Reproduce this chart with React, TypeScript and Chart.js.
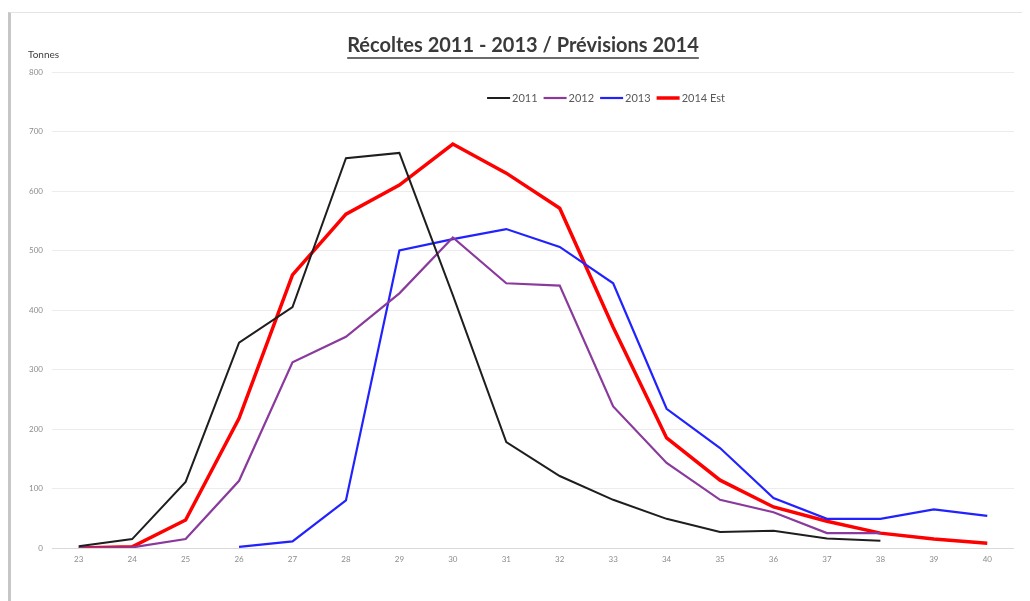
import React, { useEffect, useRef } from "react";
import { Chart, registerables } from "chart.js";

Chart.register(...registerables);

const weeks = ["23", "24", "25", "26", "27", "28", "29", "30", "31", "32", "33", "34", "35", "36", "37", "38", "39", "40"];
const s2011 = [3, 15, 111, 345, 405, 655, 664, 425, 178, 121, 81, 49, 27, 29, 16, 12, null, null];
const s2012 = [0, 1, 15, 113, 312, 355, 428, 522, 445, 441, 238, 143, 81, 60, 25, 25, null, null];
const s2013 = [null, null, null, 2, 11, 80, 500, 519, 536, 506, 445, 234, 168, 84, 49, 49, 65, 54];
const s2014 = [0, 2, 47, 218, 459, 561, 610, 679, 630, 571, 371, 185, 114, 69, 45, 25, 15, 8];
const seriesNames = ["2011", "2012", "2013", "2014 Est"];
const yTicks = [0, 100, 200, 300, 400, 500, 600, 700, 800];

const TITLE = "Récoltes 2011 - 2013 / Prévisions 2014";
const FONT = "Lato, 'Open Sans', sans-serif";

const extrasPlugin = {
  id: "extras",
  afterDraw(chart: any) {
    const ctx = chart.ctx;
    ctx.save();
    // title with underline
    ctx.font = `bold 20px ${FONT}`;
    ctx.fillStyle = "#3a3a3a";
    ctx.textAlign = "center";
    ctx.textBaseline = "middle";
    const cx = 512;
    const ty = 33;
    ctx.fillText(TITLE, cx, ty);
    const w = ctx.measureText(TITLE).width;
    ctx.strokeStyle = "#3a3a3a";
    ctx.lineWidth = 1.5;
    ctx.beginPath();
    ctx.moveTo(cx - w / 2, ty + 12);
    ctx.lineTo(cx + w / 2, ty + 12);
    ctx.stroke();
    // axis unit
    ctx.font = `10px ${FONT}`;
    ctx.fillStyle = "#404040";
    ctx.textAlign = "left";
    ctx.fillText("Tonnes", 17, 42);
    // legend
    const ds = chart.data.datasets;
    ctx.font = `11px ${FONT}`;
    const sw = 23;
    const gapText = 2;
    const gapItem = 6;
    const widths = ds.map((d: any) => sw + gapText + ctx.measureText(d.label).width);
    const total = widths.reduce((a: number, b: number) => a + b, 0) + gapItem * (ds.length - 1);
    let x = 595 - total / 2;
    const ly = 85;
    ds.forEach((d: any, i: number) => {
      ctx.strokeStyle = d.borderColor;
      ctx.lineWidth = d.borderWidth;
      ctx.beginPath();
      ctx.moveTo(x, ly);
      ctx.lineTo(x + sw, ly);
      ctx.stroke();
      ctx.fillStyle = "#595959";
      ctx.fillText(d.label, x + sw + gapText, ly + 0.5);
      x += widths[i] + gapItem;
    });
    ctx.restore();
  },
};

export default function App() {
  const ref = useRef<HTMLCanvasElement>(null);
  useEffect(() => {
    if (!ref.current) return;
    const chart = new Chart(ref.current, {
      type: "line",
      data: {
        labels: weeks,
        datasets: [
          { label: seriesNames[0], data: s2011, borderColor: "#1e1e1e", backgroundColor: "#1e1e1e", borderWidth: 2, pointRadius: 0, tension: 0 },
          { label: seriesNames[1], data: s2012, borderColor: "#8a3a9c", backgroundColor: "#8a3a9c", borderWidth: 2.2, pointRadius: 0, tension: 0 },
          { label: seriesNames[2], data: s2013, borderColor: "#2222ff", backgroundColor: "#2222ff", borderWidth: 2.2, pointRadius: 0, tension: 0 },
          { label: seriesNames[3], data: s2014, borderColor: "#ff0000", backgroundColor: "#ff0000", borderWidth: 3.5, pointRadius: 0, tension: 0 },
        ],
      },
      options: {
        animation: false,
        responsive: false,
        maintainAspectRatio: false,
        layout: { padding: { top: 59, right: 16, bottom: 0, left: 0 } },
        plugins: {
          legend: { display: false },
          tooltip: { enabled: false },
          title: { display: false },
        },
        scales: {
          x: {
            offset: true,
            grid: { display: false, drawTicks: false },
            border: { display: false },
            ticks: { color: "#8c8c8c", font: { family: FONT, size: 8 }, padding: 7, maxRotation: 0, autoSkip: false },
            afterFit: (s: any) => { s.height = 53; },
          },
          y: {
            min: 0,
            max: 800,
            afterBuildTicks: (s: any) => { s.ticks = yTicks.map((v) => ({ value: v })); },
            grid: {
              drawTicks: false,
              color: (c: any) => (c.tick && c.tick.value === 0 ? "#d9d9d9" : "#ececec"),
              lineWidth: 1,
            },
            border: { display: false },
            ticks: { color: "#8c8c8c", font: { family: FONT, size: 8 }, padding: 9 },
            afterFit: (s: any) => { s.width = 41; },
          },
        },
      },
      plugins: [extrasPlugin],
    });
    return () => chart.destroy();
  }, []);
  return (
    <div style={{ marginTop: 4, borderLeft: "3px solid #c6c6c6", borderTop: "1px solid #e4e4e4", width: 1019, height: 589, overflow: "hidden", background: "#fff" }}>
      <canvas ref={ref} width={1019} height={588} style={{ display: "block", width: 1019, height: 588 }} />
    </div>
  );
}
